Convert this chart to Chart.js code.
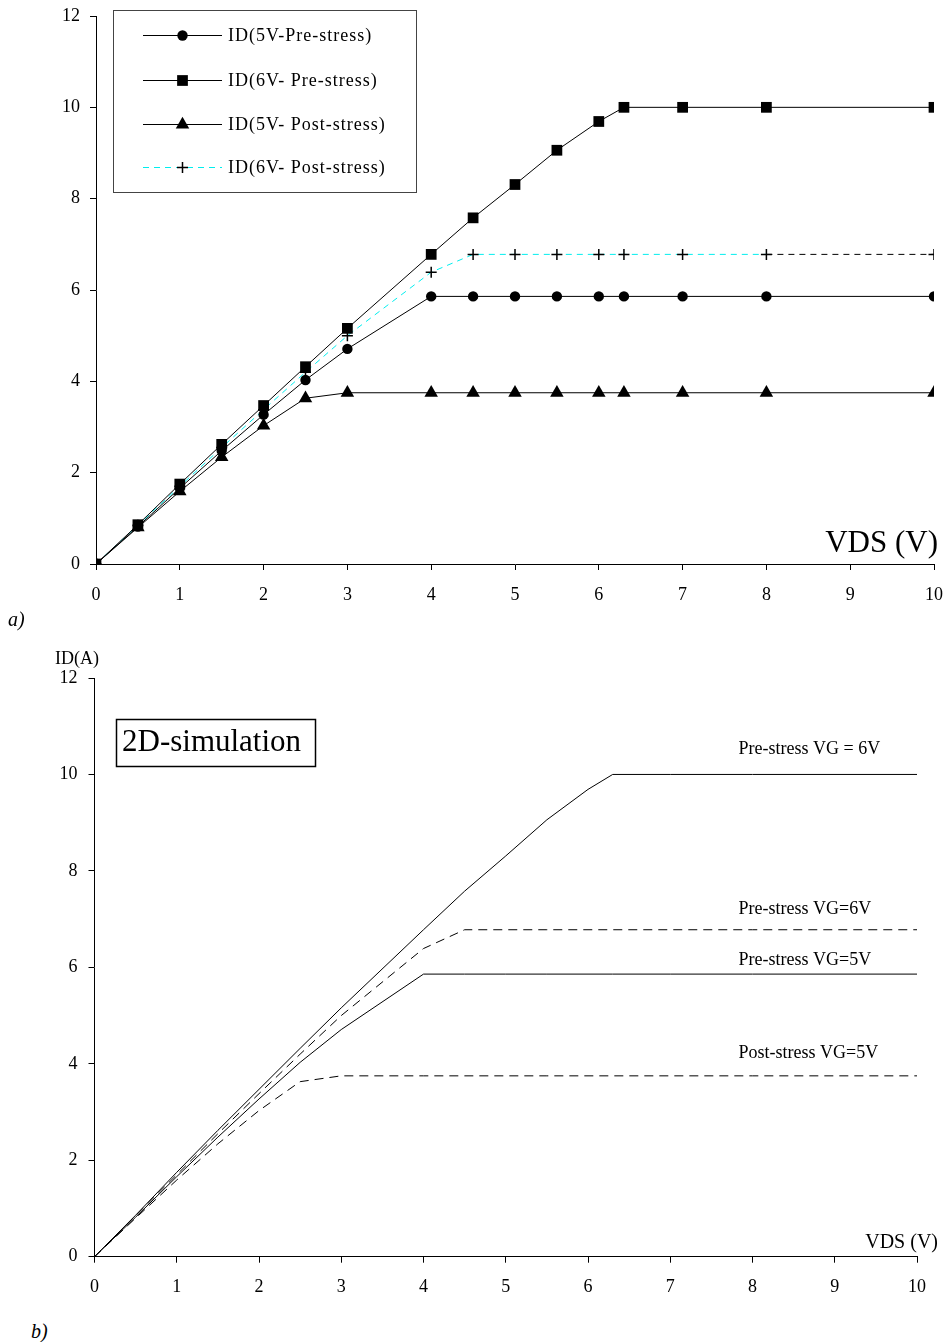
<!DOCTYPE html>
<html lang="en">
<head>
<meta charset="UTF-8">
<title>ID vs VDS - measured and 2D simulation</title>
<script src="https://cdn.jsdelivr.net/npm/chart.js"></script>
<style>
  body { margin: 0; background: #fff; font-family: 'Liberation Serif', 'Times New Roman', serif; }
  .page { position: relative; width: 946px; height: 1342px; overflow: hidden; }
  canvas { position: absolute; left: 0; }
  #measChart { top: 0; }
  #simChart { top: 630px; }
  .tag { position: absolute; font-style: italic; font-size: 20px; line-height: 24px; color: #000; }
</style>
</head>
<body>
<div class="page">
  <canvas id="measChart" width="946" height="615"></canvas>
  <canvas id="simChart" width="946" height="680"></canvas>
  <div class="tag" style="left:8px; top:607px;">a)</div>
  <div class="tag" style="left:31px; top:1319px;">b)</div>
</div>

<script>
  // VDS sweep points (V)
  const vds = [0, 0.5, 1, 1.5, 2, 2.5, 3, 4, 4.5, 5, 5.5, 6, 6.3, 7, 8, 10];
  // drain current ID (A)
  const pre5V  = [0, 0.82, 1.66, 2.48, 3.27, 4.03, 4.71, 5.86, 5.86, 5.86, 5.86, 5.86, 5.86, 5.86, 5.86, 5.86];
  const pre6V  = [0, 0.86, 1.75, 2.62, 3.47, 4.32, 5.16, 6.78, 7.58, 8.31, 9.06, 9.69, 10, 10, 10, 10];
  const post5V = [0, 0.80, 1.59, 2.34, 3.03, 3.63, 3.75, 3.75, 3.75, 3.75, 3.75, 3.75, 3.75, 3.75, 3.75, 3.75];
  const post6V = [0, 0.85, 1.70, 2.55, 3.38, 4.20, 5.00, 6.39, 6.78, 6.78, 6.78, 6.78, 6.78, 6.78, 6.78, 6.78];

  const legendNames = ['ID(5V-Pre-stress)', 'ID(6V- Pre-stress)', 'ID(5V- Post-stress)', 'ID(6V- Post-stress)'];

  // curve labels in the simulation plot: [text, VDS, ID]
  const simLabels = [
    ['Pre-stress VG = 6V', 7.83, 10.53],
    ['Pre-stress VG=6V', 7.83, 7.21],
    ['Pre-stress VG=5V', 7.83, 6.15],
    ['Post-stress VG=5V', 7.83, 4.21]
  ];

  const serif = "'Liberation Serif', 'Times New Roman', serif";
  Chart.defaults.font.family = serif;
  Chart.defaults.color = '#000';

  const cyan = '#00eeee';

  function pts(ys) {
    return vds.map((x, i) => ({ x: x, y: ys[i] }));
  }

  function axes(yWidth, xHeight, xPad, yPad) {
    return {
      x: {
        type: 'linear', min: 0, max: 10,
        ticks: { stepSize: 1, font: { size: 18 }, padding: xPad, color: '#000', maxRotation: 0 },
        grid: { drawOnChartArea: false, tickLength: 6, color: '#000' },
        border: { color: '#000', width: 1 },
        afterFit: s => { s.height = xHeight; s.paddingLeft = 0; s.paddingRight = 0; }
      },
      y: {
        type: 'linear', min: 0, max: 12,
        ticks: { stepSize: 2, font: { size: 18 }, padding: yPad, color: '#000' },
        grid: { drawOnChartArea: false, tickLength: 6, color: '#000' },
        border: { color: '#000', width: 1 },
        afterFit: s => { s.width = yWidth; s.paddingTop = 0; s.paddingBottom = 0; }
      }
    };
  }

  // legend box + axis caption for the measured chart
  const measDecor = {
    id: 'measDecor',
    afterDraw(chart) {
      const ctx = chart.ctx;
      const area = chart.chartArea;
      ctx.save();
      ctx.strokeStyle = '#444';
      ctx.lineWidth = 1;
      ctx.strokeRect(113.5, 10.5, 303, 182);
      const rows = [35, 80, 124, 167];
      chart.data.datasets.forEach((ds, i) => {
        const y = rows[i];
        ctx.save();
        ctx.strokeStyle = ds.borderColor;
        ctx.lineWidth = 1;
        ctx.setLineDash(ds.borderDash || []);
        ctx.beginPath();
        ctx.moveTo(143, y + 0.5);
        ctx.lineTo(222, y + 0.5);
        ctx.stroke();
        ctx.restore();
        ctx.fillStyle = '#000';
        ctx.strokeStyle = '#000';
        ctx.lineWidth = ds.pointBorderWidth || 1;
        Chart.helpers.drawPoint(ctx, {
          pointStyle: ds.pointStyle, radius: ds.pointRadius, rotation: 0, borderWidth: ds.pointBorderWidth || 0
        }, 182.5, y + 0.5);
        ctx.fillStyle = '#000';
        ctx.font = '18px ' + serif;
        ctx.letterSpacing = '1px';
        ctx.textBaseline = 'middle';
        ctx.textAlign = 'left';
        ctx.fillText(ds.label, 228, y + 1);
        ctx.letterSpacing = '0px';
      });
      ctx.font = '31px ' + serif;
      ctx.textAlign = 'right';
      ctx.textBaseline = 'alphabetic';
      ctx.fillText('VDS (V)', area.right + 4, area.bottom - 12);
      ctx.restore();
    }
  };

  new Chart(document.getElementById('measChart'), {
    type: 'line',
    data: {
      datasets: [
        { label: legendNames[0], data: pts(pre5V), borderColor: '#000', borderWidth: 1,
          pointStyle: 'circle', pointRadius: 5.2, pointBackgroundColor: '#000', pointBorderColor: '#000', pointBorderWidth: 0 },
        { label: legendNames[1], data: pts(pre6V), borderColor: '#000', borderWidth: 1,
          pointStyle: 'rect', pointRadius: 7.6, pointBackgroundColor: '#000', pointBorderColor: '#000', pointBorderWidth: 0 },
        { label: legendNames[2], data: pts(post5V), borderColor: '#000', borderWidth: 1,
          pointStyle: 'triangle', pointRadius: 7.8, pointBackgroundColor: '#000', pointBorderColor: '#000', pointBorderWidth: 0 },
        { label: legendNames[3], data: pts(post6V), borderColor: cyan, borderWidth: 1, borderDash: [6, 5],
          pointStyle: 'cross', pointRadius: 5.5, pointBackgroundColor: '#000', pointBorderColor: '#000', pointBorderWidth: 1.5,
          segment: { borderColor: c => c.p0.parsed.x >= 8 ? '#000' : undefined } }
      ]
    },
    options: {
      responsive: false,
      animation: false,
      layout: { padding: { top: 16, right: 12, left: 0, bottom: 0 } },
      scales: axes(96, 51, 14, 10),
      elements: { line: { tension: 0 } },
      plugins: { legend: { display: false }, tooltip: { enabled: false } }
    },
    plugins: [measDecor]
  });

  // captions for the simulation chart
  const simDecor = {
    id: 'simDecor',
    afterDraw(chart) {
      const ctx = chart.ctx;
      const area = chart.chartArea;
      const xs = chart.scales.x;
      const ys = chart.scales.y;
      ctx.save();
      ctx.fillStyle = '#000';
      ctx.font = '18px ' + serif;
      ctx.textBaseline = 'middle';
      ctx.textAlign = 'center';
      ctx.fillText('ID(A)', 77, 29);
      ctx.textAlign = 'left';
      simLabels.forEach(l => {
        ctx.fillText(l[0], xs.getPixelForValue(l[1]), ys.getPixelForValue(l[2]));
      });
      ctx.font = '20px ' + serif;
      ctx.textAlign = 'right';
      ctx.textBaseline = 'alphabetic';
      ctx.fillText('VDS (V)', area.right + 21, area.bottom - 9);
      // boxed title
      ctx.strokeStyle = '#000';
      ctx.lineWidth = 1.5;
      ctx.strokeRect(116.5, 89.5, 199, 47);
      ctx.font = '31px ' + serif;
      ctx.textAlign = 'left';
      ctx.textBaseline = 'middle';
      ctx.fillText('2D-simulation', 122, 113);
      ctx.restore();
    }
  };

  new Chart(document.getElementById('simChart'), {
    type: 'line',
    data: {
      datasets: [
        { label: legendNames[0], data: pts(pre5V), borderColor: '#000', borderWidth: 1, pointRadius: 0 },
        { label: legendNames[1], data: pts(pre6V), borderColor: '#000', borderWidth: 1, pointRadius: 0 },
        { label: legendNames[2], data: pts(post5V), borderColor: '#000', borderWidth: 1, pointRadius: 0, borderDash: [9, 6] },
        { label: legendNames[3], data: pts(post6V), borderColor: '#000', borderWidth: 1, pointRadius: 0, borderDash: [9, 6] }
      ]
    },
    options: {
      responsive: false,
      animation: false,
      layout: { padding: { top: 48, right: 29, left: 0, bottom: 0 } },
      scales: axes(94.5, 53.3, 14, 11),
      elements: { line: { tension: 0 } },
      plugins: { legend: { display: false }, tooltip: { enabled: false } }
    },
    plugins: [simDecor]
  });
</script>
</body>
</html>
